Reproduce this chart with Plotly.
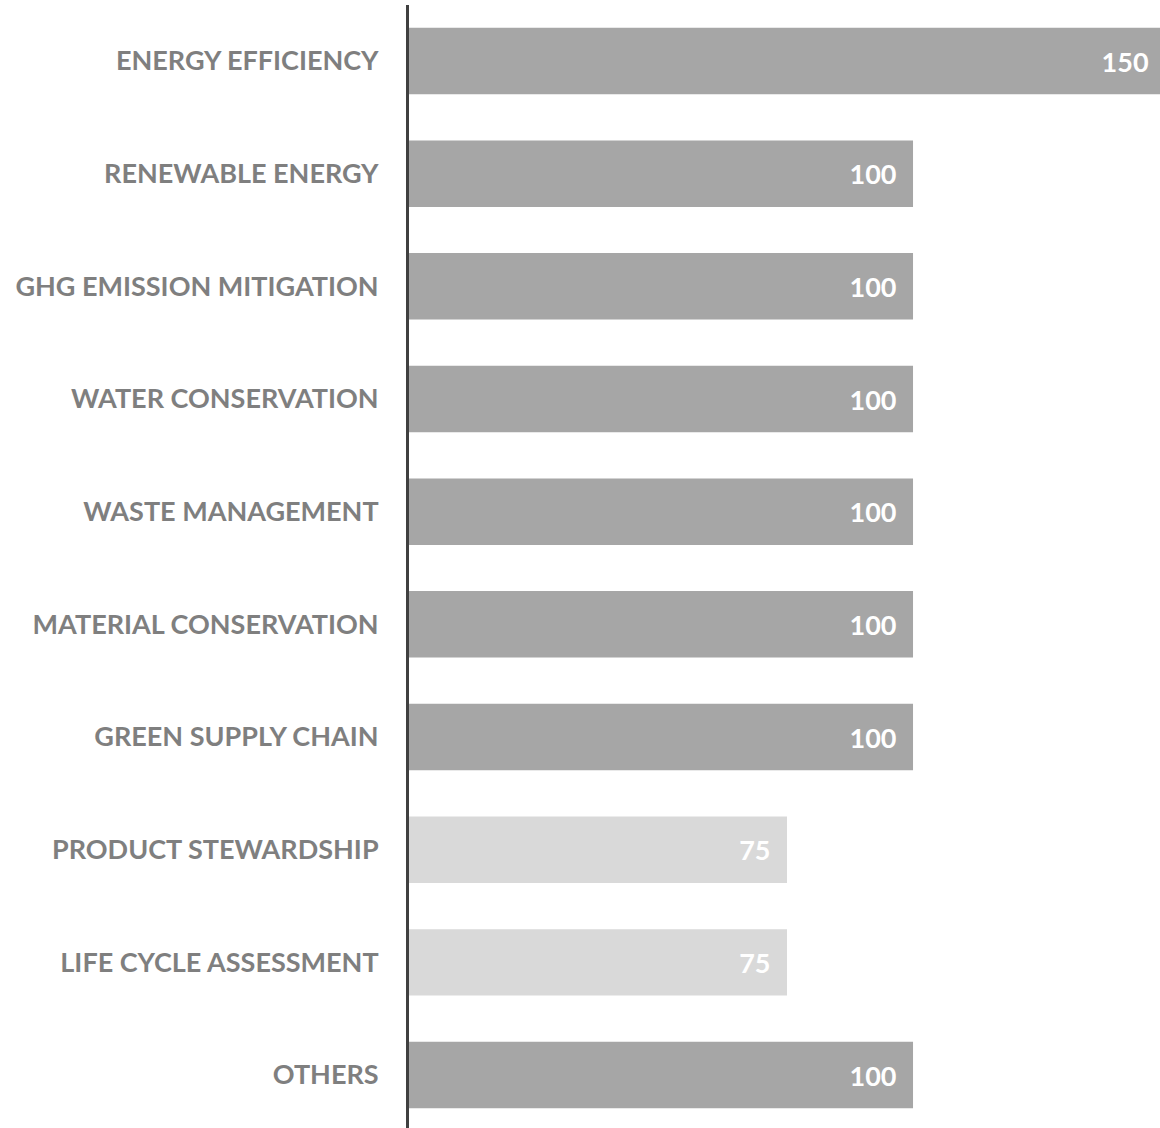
import plotly.graph_objects as go

categories = [
    "ENERGY EFFICIENCY",
    "RENEWABLE ENERGY",
    "GHG EMISSION MITIGATION",
    "WATER CONSERVATION",
    "WASTE MANAGEMENT",
    "MATERIAL CONSERVATION",
    "GREEN SUPPLY CHAIN",
    "PRODUCT STEWARDSHIP",
    "LIFE CYCLE ASSESSMENT",
    "OTHERS",
]
values = [150, 100, 100, 100, 100, 100, 100, 75, 75, 100]

DARK = "#a6a6a6"
LIGHT = "#d9d9d9"
bar_colors = [LIGHT if v < 100 else DARK for v in values]

FONT = "Lato"

fig = go.Figure()
fig.add_trace(go.Bar(
    x=values,
    y=categories,
    orientation="h",
    marker=dict(color=bar_colors, line=dict(width=0)),
    width=0.59,
    # en space keeps the value label a little way in from the bar end
    texttemplate="%{x}\u2002",
    textposition="inside",
    insidetextanchor="end",
    textangle=0,
    constraintext="none",
    insidetextfont=dict(family=FONT, size=27, color="white", weight="bold"),
    cliponaxis=True,
    hoverinfo="skip",
))

fig.update_layout(
    width=1160,
    height=1128,
    margin=dict(l=409, r=0, t=5, b=0),
    paper_bgcolor="white",
    plot_bgcolor="white",
    showlegend=False,
    uniformtext=dict(mode=False),
)
fig.update_xaxes(
    range=[0, 149.0],
    visible=False,
    showgrid=False,
    zeroline=False,
)
fig.update_yaxes(
    categoryorder="array",
    categoryarray=categories,
    range=[9.47, -0.497],
    showgrid=False,
    zeroline=False,
    showline=True,
    linecolor="#404040",
    linewidth=3,
    ticks="",
    ticklabelstandoff=22,
    tickfont=dict(family=FONT, size=27, color="#7f7f7f", weight="bold"),
)

fig.write_html("out.html")
